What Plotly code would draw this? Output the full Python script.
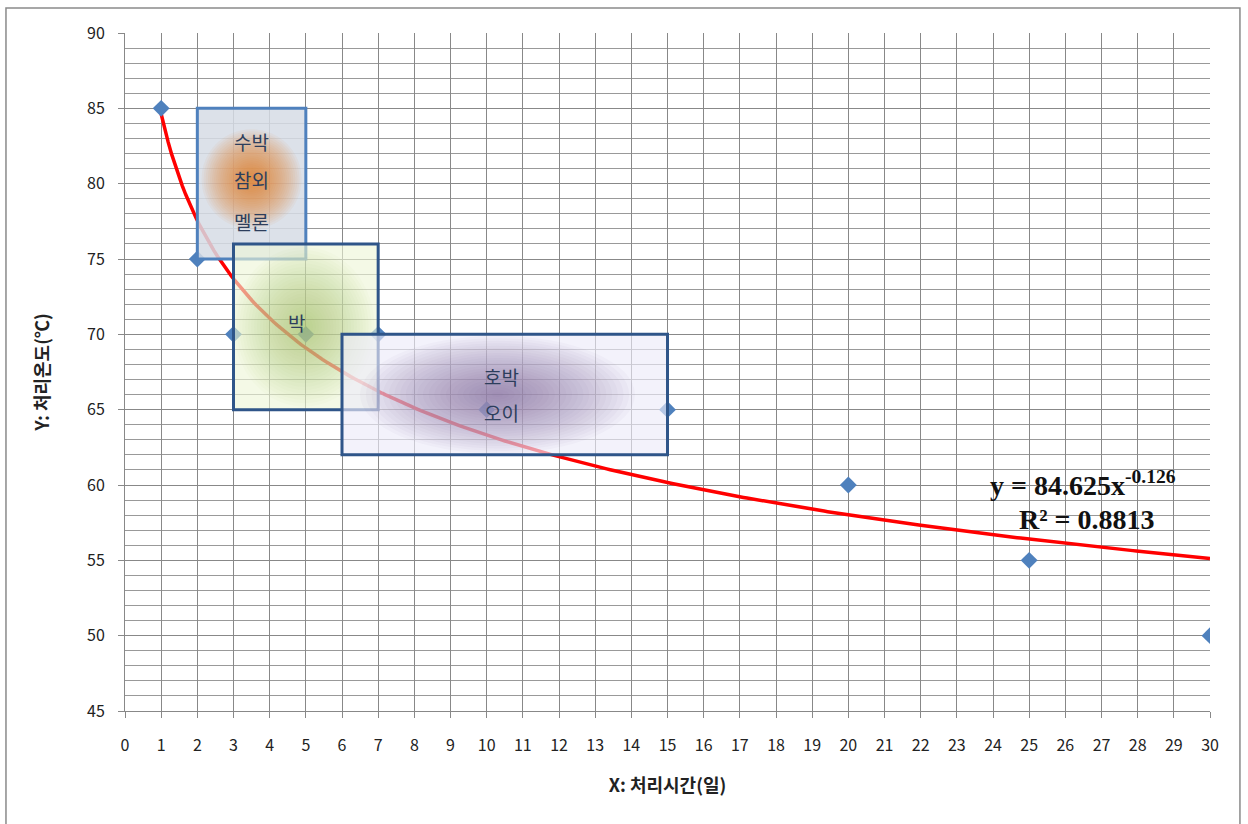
import numpy as np
import plotly.graph_objects as go

# Treatment time (days) vs treatment temperature (°C)
days = [1, 2, 3, 5, 7, 10, 15, 20, 25, 30]
temps = [85, 75, 70, 70, 70, 65, 65, 60, 55, 50]

# Power-law trendline coefficients (y = a * x^b)
coef_a = 84.625
coef_b = -0.126
r_squared = 0.8813

x_ticks = list(range(0, 31))
y_ticks = list(range(45, 91, 5))

# Crop groups: label lines, x-range, y-range
groups = [
    {"labels": ["수박", "참외", "멜론"], "x": (2, 5), "y": (75, 85),
     "label_x": 3.5, "label_y": [82.8, 80.3, 77.5]},
    {"labels": ["박"], "x": (3, 7), "y": (65, 76),
     "label_x": 4.75, "label_y": [70.8]},
    {"labels": ["호박", "오이"], "x": (6, 15), "y": (62, 70),
     "label_x": 10.4, "label_y": [67.2, 64.8]},
]

fig = go.Figure()

# trendline
xt = np.linspace(1, 30, 300)
yt = coef_a * xt ** coef_b
fig.add_trace(go.Scatter(x=xt, y=yt, mode="lines",
                         line=dict(color="#ff0000", width=3.5),
                         hoverinfo="skip", showlegend=False))

# observations
fig.add_trace(go.Scatter(x=days, y=temps, mode="markers",
                         marker=dict(symbol="diamond", size=13, color="#4f81bd",
                                     line=dict(width=0)),
                         showlegend=False))

shapes = []


def glow_px(cx, cy, r, color, steps=24, alpha=0.05):
    # soft round glow sized in screen pixels
    out = []
    for i in range(steps):
        f = 1 - i / steps
        out.append(dict(type="circle", xref="x", yref="y",
                        xsizemode="pixel", ysizemode="pixel",
                        xanchor=cx, yanchor=cy,
                        x0=-r * f, x1=r * f, y0=-r * f, y1=r * f,
                        fillcolor=color, opacity=alpha,
                        line=dict(width=0), layer="above"))
    return out


def glow_data(x0, x1, y0, y1, color, steps=24, alpha=0.035):
    # soft elliptical glow bounded by a data-space box
    out = []
    cx, cy = (x0 + x1) / 2, (y0 + y1) / 2
    hx, hy = (x1 - x0) / 2, (y1 - y0) / 2
    for i in range(steps):
        f = 1 - i / steps
        out.append(dict(type="circle", xref="x", yref="y",
                        x0=cx - hx * f, x1=cx + hx * f,
                        y0=cy - hy * f, y1=cy + hy * f,
                        fillcolor=color, opacity=alpha,
                        line=dict(width=0), layer="above"))
    return out


fills = ["rgba(214,220,229,0.85)", "rgba(238,245,214,0.62)", "rgba(237,235,249,0.65)"]
borders = ["#4f81bd", "#2f5589", "#2f5589"]
glow_shapes = [
    glow_px(3.5, 80.3, 50, "#f07d1a"),
    glow_data(3.0, 6.9, 65.2, 75.8, "#8fb54a", 24, 0.027),
    glow_data(6.5, 14.1, 62.1, 69.9, "#7a5a8e", 24, 0.036),
]

for g, fc, bc, gl in zip(groups, fills, borders, glow_shapes):
    x0, x1 = g["x"]
    y0, y1 = g["y"]
    shapes.append(dict(type="rect", xref="x", yref="y", x0=x0, x1=x1, y0=y0, y1=y1,
                       fillcolor=fc, line=dict(width=0), layer="above"))
    shapes.extend(gl)
    shapes.append(dict(type="rect", xref="x", yref="y", x0=x0, x1=x1, y0=y0, y1=y1,
                       fillcolor="rgba(0,0,0,0)", line=dict(color=bc, width=3),
                       layer="above"))

# outer chart frame
shapes.append(dict(type="rect", xref="paper", yref="paper",
                   x0=-0.1097, x1=1.0276, y0=-0.2, y1=1.0369,
                   line=dict(color="#8a8a8a", width=1.5), fillcolor="rgba(0,0,0,0)",
                   layer="below"))

annotations = []
for g in groups:
    for lab, ly in zip(g["labels"], g["label_y"]):
        annotations.append(dict(x=g["label_x"], y=ly, xref="x", yref="y", text=lab,
                                showarrow=False,
                                font=dict(family="Noto Sans CJK KR", size=19,
                                          color="#2d3e5c")))

annotations.append(dict(x=26.5, y=60.1, xref="x", yref="y",
                        text=f"<b>y = {coef_a}x<sup>{coef_b}</sup></b>",
                        showarrow=False,
                        font=dict(family="Liberation Serif", size=28, color="#111111")))
annotations.append(dict(x=26.6, y=57.7, xref="x", yref="y",
                        text=f"<b>R² = {r_squared}</b>",
                        showarrow=False,
                        font=dict(family="Liberation Serif", size=28, color="#111111")))

fig.update_layout(
    width=1248, height=824,
    margin=dict(l=125, r=38, t=33, b=113),
    paper_bgcolor="white", plot_bgcolor="white",
    shapes=shapes, annotations=annotations,
    font=dict(family="Noto Sans CJK KR", color="#222222"),
    showlegend=False,
)

fig.update_xaxes(
    range=[0, 30], tickmode="array", tickvals=x_ticks,
    ticktext=[str(v) for v in x_ticks],
    showgrid=True, gridcolor="#888888", gridwidth=1,
    showline=True, linecolor="#888888", linewidth=1,
    ticks="outside", ticklen=6, tickcolor="#888888",
    ticklabelstandoff=14,
    tickfont=dict(family="Noto Sans CJK KR", size=16, color="#222222"),
    title=dict(text="<b>X: 처리시간(일)</b>", standoff=24,
               font=dict(family="Noto Sans CJK KR", size=18, color="#222222")),
    zeroline=False,
)
fig.update_yaxes(
    range=[45, 90], tickmode="array", tickvals=y_ticks,
    ticktext=[str(v) for v in y_ticks],
    showgrid=True, gridcolor="#888888", gridwidth=1,
    minor=dict(dtick=1, showgrid=True, gridcolor="#999999", gridwidth=1),
    showline=True, linecolor="#888888", linewidth=1,
    ticks="outside", ticklen=6, tickcolor="#888888",
    ticklabelstandoff=10,
    tickfont=dict(family="Noto Sans CJK KR", size=16, color="#222222"),
    title=dict(text="<b>Y: 처리온도(℃)</b>", standoff=32,
               font=dict(family="Noto Sans CJK KR", size=18, color="#222222")),
    zeroline=False,
)

fig.write_html("out.html")
